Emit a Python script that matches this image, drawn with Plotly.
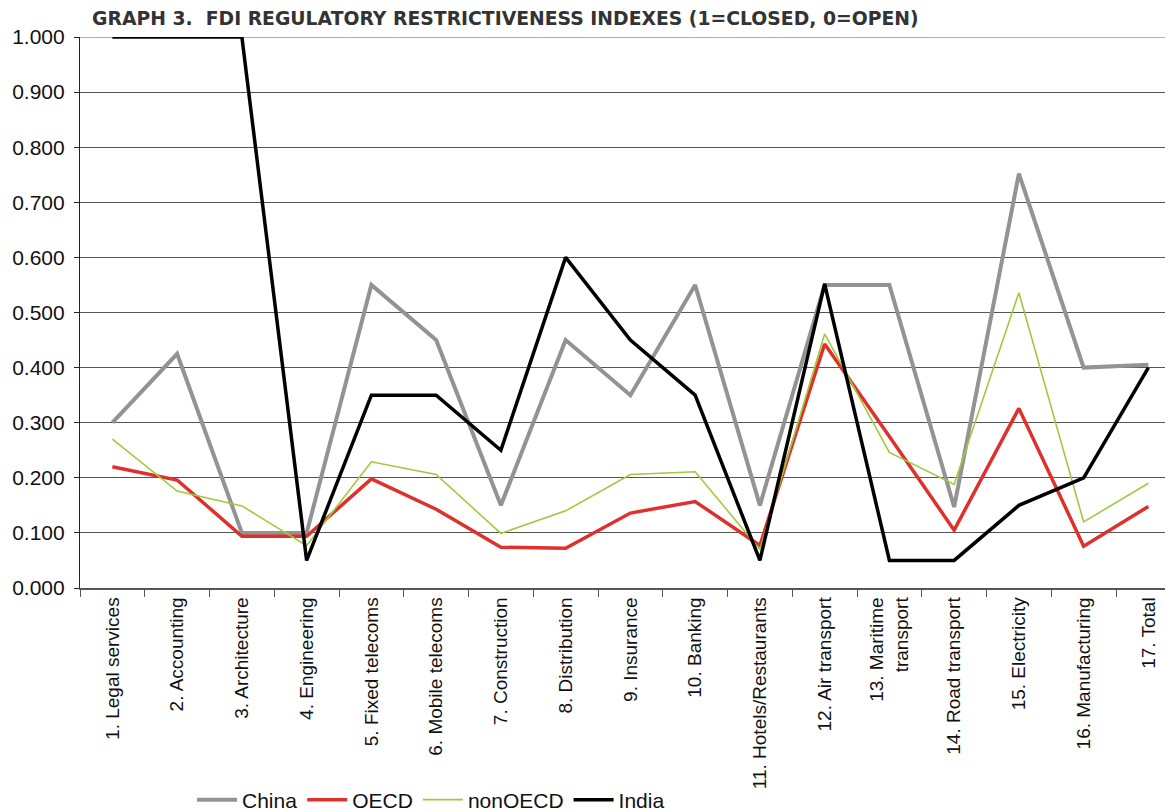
import plotly.graph_objects as go

categories = [
    "1. Legal services", "2. Accounting", "3. Architecture", "4. Engineering",
    "5. Fixed telecoms", "6. Mobile telecoms", "7. Construction", "8. Distribution",
    "9. Insurance", "10. Banking", "11. Hotels/Restaurants", "12. Air transport",
    "13. Maritime<br>transport", "14. Road transport", "15. Electricity",
    "16. Manufacturing", "17. Total",
]
china = [0.300, 0.425, 0.100, 0.100, 0.550, 0.450, 0.150, 0.450, 0.350, 0.550,
         0.150, 0.550, 0.550, 0.147, 0.752, 0.400, 0.405]
oecd = [0.220, 0.196, 0.094, 0.094, 0.198, 0.143, 0.074, 0.072, 0.136, 0.157,
        0.077, 0.443, 0.275, 0.105, 0.326, 0.076, 0.148]
non_oecd = [0.270, 0.176, 0.149, 0.077, 0.229, 0.206, 0.099, 0.140, 0.206, 0.211,
            0.070, 0.461, 0.246, 0.188, 0.536, 0.120, 0.190]
india = [1.000, 1.000, 1.000, 0.050, 0.350, 0.350, 0.250, 0.600, 0.450, 0.350,
         0.050, 0.552, 0.050, 0.050, 0.150, 0.200, 0.400]
y_ticks = [0.0, 0.1, 0.2, 0.3, 0.4, 0.5, 0.6, 0.7, 0.8, 0.9, 1.0]

FONT = "Liberation Sans, Arial, Helvetica, sans-serif"
W, H = 1165, 804  # page body has an 8px margin

fig = go.Figure()
series = [
    ("China", china, "#939393", 4),
    ("OECD", oecd, "#e0302b", 3.5),
    ("nonOECD", non_oecd, "#9dcb3c", 1.6),
    ("India", india, "#000000", 3.5),
]
for name, vals, color, w in series:
    fig.add_trace(go.Scatter(x=categories, y=vals, mode="lines", name=name,
                             line=dict(color=color, width=w)))

fig.add_shape(type="line", xref="paper", yref="y", x0=0, x1=1, y0=1, y1=1,
              line=dict(color="#b0b0b0", width=2), layer="between")

fig.update_layout(
    width=W, height=H,
    margin=dict(l=72, r=0, t=29, b=224, autoexpand=False),
    paper_bgcolor="white", plot_bgcolor="white",
    font=dict(family=FONT, color="#111"),
    title=dict(text="<b>GRAPH 3.  FDI REGULATORY RESTRICTIVENESS INDEXES (1=CLOSED, 0=OPEN)</b>",
               font=dict(size=18.8, color="#333", family="DejaVu Sans, Liberation Sans, sans-serif"),
               x=84 / W, xanchor="left", xref="container",
               y=1 - 10 / H, yanchor="middle", yref="container"),
    showlegend=True,
    legend=dict(orientation="h", x=184 / W, xanchor="left", xref="container",
                y=12 / H, yanchor="middle", yref="container",
                font=dict(size=21, family=FONT, color="#111"),
                itemwidth=40, tracegroupgap=0, bgcolor="rgba(0,0,0,0)"),
)
fig.update_xaxes(
    type="category", range=[-0.5, 16.38], tickangle=-90, automargin=False,
    tickson="boundaries", ticks="outside", ticklen=7, tickcolor="#555",
    showline=True, linecolor="#555", linewidth=1.5, showgrid=False,
    tickfont=dict(size=19, family=FONT, color="#111"),
)
fig.update_yaxes(
    range=[0, 1], tickvals=y_ticks, tickformat=".3f", automargin=False,
    ticks="outside", ticklen=5, tickcolor="#222", ticklabelstandoff=5,
    showline=True, linecolor="#222", linewidth=1.2,
    showgrid=True, gridcolor="#555", gridwidth=1.3, zeroline=False,
    tickfont=dict(size=21, family=FONT, color="#111"),
)

fig.write_html("out.html")
